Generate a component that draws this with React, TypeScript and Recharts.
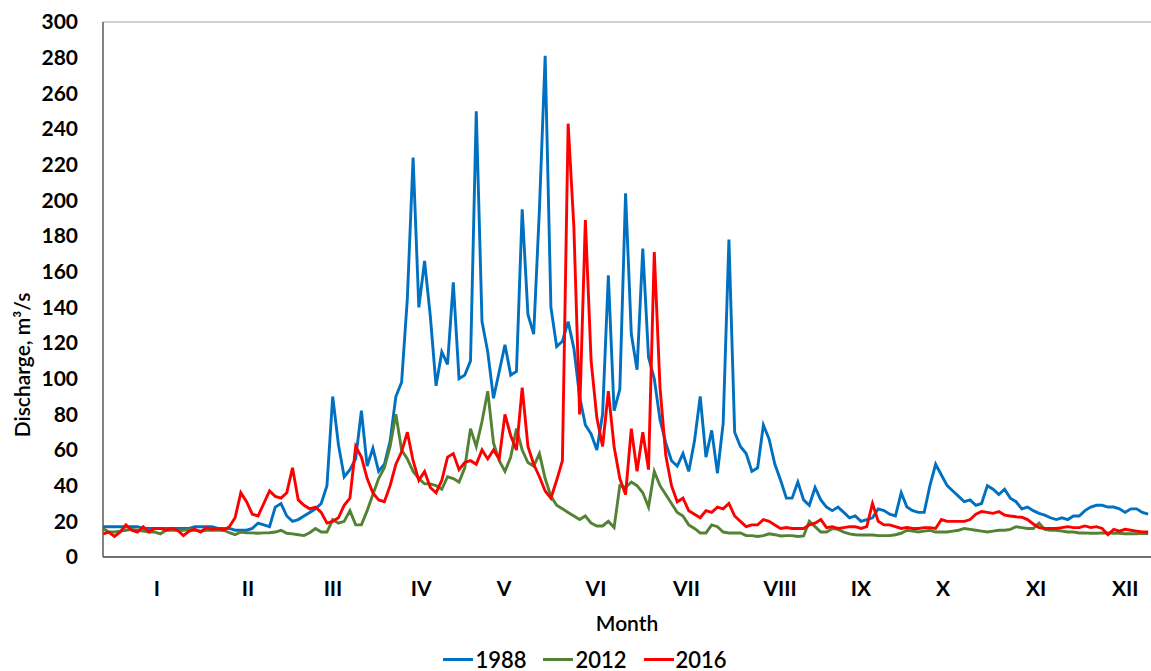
import { LineChart, Line, XAxis, YAxis, ReferenceLine, Legend } from "recharts";

// daily discharge read every 2nd day of the year (day 0, 2, 4 ... 364)
const dayStep = 2;

const monthLabels = ["I", "II", "III", "IV", "V", "VI", "VII", "VIII", "IX", "X", "XI", "XII"];
// where the month names sit along the day axis
const monthTickDays = [18.8, 50.5, 80.1, 110.8, 139.7, 171.7, 203.2, 235.8, 264, 292.6, 325, 356];

const yTicks = [0, 20, 40, 60, 80, 100, 120, 140, 160, 180, 200, 220, 240, 260, 280, 300];

const q1988 = [
  17, 17, 17, 17, 17, 17, 17, 16, 16, 16,
  16, 16, 16, 16, 16, 16, 17, 17, 17, 17,
  16, 16, 16, 15, 15, 15, 16, 19, 18, 17,
  28, 30, 23, 20, 21, 23, 25, 27, 30, 40,
  90, 63, 45, 49, 55, 82, 51, 61, 48, 52,
  65, 90, 98, 145, 224, 140, 166, 135, 96, 115,
  108, 154, 100, 102, 110, 250, 132, 115, 89, 104,
  119, 102, 104, 195, 136, 125, 195, 281, 140, 118,
  121, 132, 117, 90, 74, 69, 60, 80, 158, 82,
  94, 204, 125, 105, 173, 112, 100, 77, 64, 54,
  51, 58, 48, 65, 90, 56, 71, 47, 75, 178,
  70, 62, 58, 48, 50, 74, 66, 52, 43, 33,
  33, 42, 32, 29, 39, 32, 28, 26, 28, 25,
  22, 23, 20, 21, 22, 27, 26, 24, 23, 36,
  28, 26, 25, 25, 40, 52, 46, 40, 37, 34,
  31, 32, 29, 30, 40, 38, 35, 38, 33, 31,
  27, 28, 26, 24.5, 23.5, 22, 21, 22, 21, 23,
  23, 26, 28, 29, 29, 28, 28, 27, 25, 27,
  27, 25, 24,
];

const q2012 = [
  16, 14, 14, 14.5, 15, 15.5, 15, 14.5, 14, 14,
  13, 15, 15, 15, 15, 15.5, 15, 14.5, 15, 15,
  15, 15, 13.6, 12.5, 14, 13.6, 13.5, 13.3, 13.5, 13.6,
  14, 15, 13.3, 13, 12.5, 12, 13.6, 16, 14, 14,
  21, 19, 20, 26, 18, 18, 26, 35, 44, 50,
  62, 80, 60, 55, 48, 44, 41, 41, 40, 38,
  45, 44, 42, 50, 72, 62, 76, 93, 64, 54,
  48, 56, 72, 60, 53, 51, 58, 44, 34, 29,
  27, 25, 23, 21, 23, 19, 17.4, 17.4, 20, 16.5,
  40, 39, 42, 40, 36, 28, 48, 40, 35, 30,
  25, 23, 18, 16, 13.5, 13.5, 18, 17, 14, 13.5,
  13.5, 13.5, 12, 12, 11.5, 12, 13, 12.5, 11.8, 12,
  12, 11.5, 11.8, 20, 17, 14, 14, 16, 15.5, 14,
  13, 12.5, 12.3, 12.3, 12.3, 12, 12, 12, 12.5, 13.3,
  15, 14.5, 14, 14.5, 15, 14, 14, 14, 14.5, 15,
  16, 15.5, 15, 14.5, 14, 14.5, 15, 15, 15.5, 17,
  16.5, 16, 16, 19, 15.5, 15, 15, 14.5, 14, 14,
  13.5, 13.5, 13.3, 13.3, 13.5, 13.5, 13.3, 13.3, 13, 13,
  13, 13.3, 13,
];

const q2016 = [
  13, 14, 11.5, 14, 18, 15, 14, 17, 14, 16,
  16, 15, 16, 15, 12, 14.5, 15.5, 14, 16.5, 15.5,
  16, 15, 17, 22, 36, 31, 24, 23, 30, 37,
  34, 33, 36, 50, 32, 29, 27, 28, 25, 19,
  20, 22, 29, 33, 62, 56, 44, 36, 32, 31,
  40, 52, 59, 70, 54, 43, 48, 39, 36, 43,
  56, 58, 49, 53, 54, 52, 60, 55, 60, 55,
  80, 68, 60, 95, 62, 52, 45, 37, 33, 43,
  54, 243, 185, 80, 189, 110, 78, 62, 93, 62,
  44, 35, 72, 48, 70, 49, 171, 95, 57, 40,
  31, 33, 26, 24, 22, 26, 25, 28, 27, 30,
  23, 20, 17, 18, 18, 21, 20, 18, 16, 16.5,
  16, 16, 16, 18, 19, 21, 16.5, 17, 16, 16.5,
  17, 17, 16, 17, 30, 20, 18, 18, 17, 16,
  16.6, 16, 16, 16.5, 16.5, 16, 21, 20, 20, 20,
  20, 21, 24, 25.5, 25, 24.5, 25.5, 23.5, 23, 22.6,
  22.3, 21, 18.5, 16.5, 16, 16, 16, 16.5, 17, 16.5,
  16.5, 17.4, 16.5, 17, 16, 12.5, 15.5, 14.5, 15.5, 15,
  14.5, 14, 14,
];

const series = [
  { key: "y1988", name: "1988", color: "#0070C0" },
  { key: "y2012", name: "2012", color: "#548235" },
  { key: "y2016", name: "2016", color: "#FF0000" },
];

const data = q1988.map((v, i) => ({
  day: i * dayStep,
  y1988: v,
  y2012: q2012[i],
  y2016: q2016[i],
}));

const font = "Lato, 'Open Sans', sans-serif";

function LegendBox() {
  return (
    <div
      style={{
        display: "flex",
        justifyContent: "center",
        alignItems: "center",
        height: 24,
        marginLeft: 36,
        fontFamily: font,
        fontSize: 22,
        fontWeight: 600,
        color: "#000",
      }}
    >
      {series.map((s) => (
        <div key={s.key} style={{ display: "flex", alignItems: "center", marginRight: 17 }}>
          <span style={{ display: "inline-block", width: 30, height: 3, background: s.color, marginRight: 2 }} />
          <span>{s.name}</span>
        </div>
      ))}
    </div>
  );
}

export default function App() {
  return (
    <div style={{ position: "absolute", left: 0, top: 0, background: "#fff" }}>
      <LineChart width={1151} height={671} data={data} margin={{ top: 22, right: 0, bottom: 0, left: 0 }}>
        <ReferenceLine y={300} stroke="#d0d0d0" strokeWidth={2} />
        <XAxis
          dataKey="day"
          type="number"
          domain={[0, 365]}
          ticks={monthTickDays}
          interval={0}
          tickFormatter={(v: number) => monthLabels[monthTickDays.indexOf(v)]}
          tickLine={false}
          tickMargin={18}
          height={90}
          axisLine={{ stroke: "#404040", strokeWidth: 1.5 }}
          tick={{ fill: "#000", fontSize: 21, fontWeight: 700, fontFamily: font }}
          label={{
            content: () => (
              <text x={627} y={631} textAnchor="middle" fill="#000" fontSize={21} fontWeight={600} fontFamily={font}>
                Month
              </text>
            ),
          }}
        />
        <YAxis
          type="number"
          domain={[0, 300]}
          ticks={yTicks}
          interval={0}
          width={103}
          tickLine={false}
          tickMargin={19}
          axisLine={{ stroke: "#595959", strokeWidth: 1.5 }}
          tick={{ fill: "#000", fontSize: 21, fontWeight: 700, fontFamily: font }}
          label={{
            content: () => (
              <text
                x={30}
                y={365}
                transform="rotate(-90 30 365)"
                textAnchor="middle"
                fill="#000"
                fontSize={21}
                fontWeight={600}
                fontFamily={font}
              >
                Discharge, m³/s
              </text>
            ),
          }}
        />
        <Legend verticalAlign="bottom" content={<LegendBox />} />
        {series.map((s) => (
          <Line
            key={s.key}
            type="linear"
            dataKey={s.key}
            name={s.name}
            stroke={s.color}
            strokeWidth={2.9}
            dot={false}
            isAnimationActive={false}
          />
        ))}
      </LineChart>
    </div>
  );
}
